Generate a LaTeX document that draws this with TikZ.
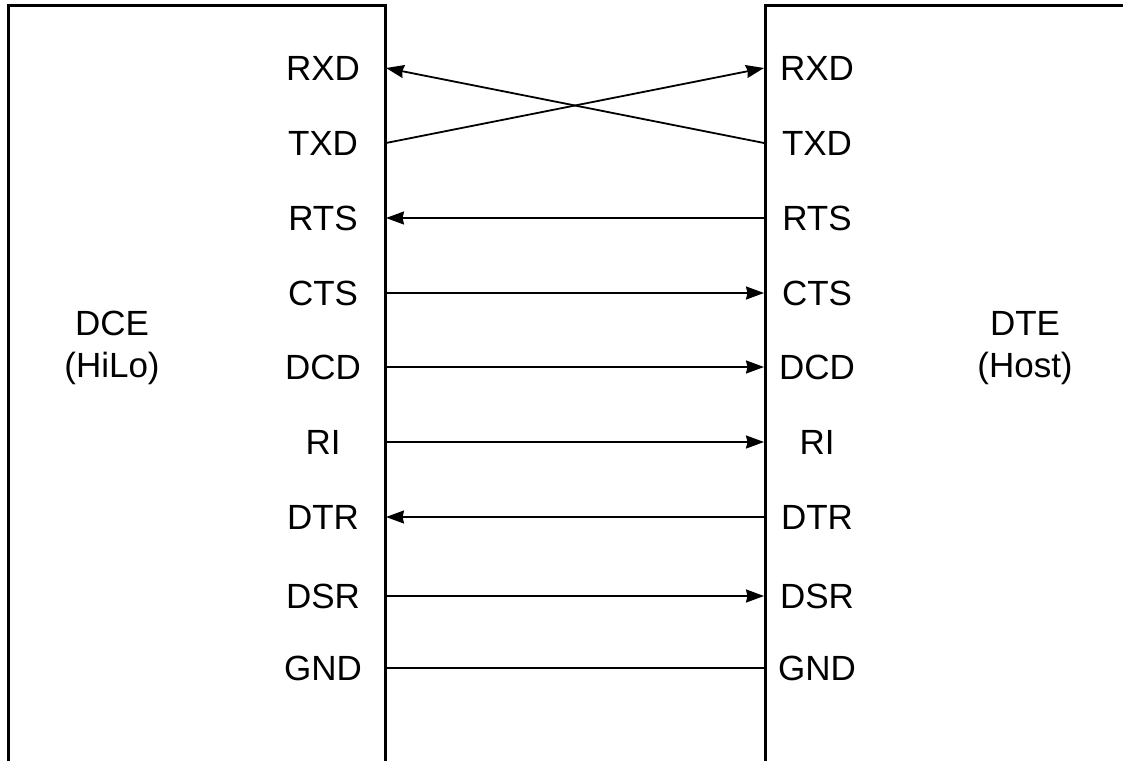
\documentclass[tikz,border=0pt]{standalone}
\usepackage{fontspec}
\setmainfont{Liberation Sans}
\usetikzlibrary{arrows.meta,positioning}

\begin{document}
\begin{tikzpicture}[x=1pt,y=-1pt,
    box/.style={draw,line width=3pt},
    pin/.style={font=\fontsize{35pt}{42pt}\selectfont,inner sep=0pt},
    wire/.style={line width=1.8pt},
    sig/.style={wire,-{Stealth[length=18pt,width=13pt,inset=1.5pt]}}]
  \useasboundingbox (0,0) rectangle (1123,760);
  \clip (0,0) rectangle (1123,760);

  % the two ends
  \draw[box] (8,6) rectangle (385,820);
  \draw[box] (765,6) rectangle (1180,820);
  \node[pin,align=center] (dce) at (112,348) {DCE\\(HiLo)};
  \node[pin,align=center] (dte) at (1025,348) {DTE\\(Host)};

  % pin labels and pin points
  \foreach \name/\y in {RXD/68,TXD/143,RTS/218,CTS/293,DCD/367,RI/442,DTR/517,DSR/596,GND/668}{
    \node[pin] (l\name) at (323,\y) {\name};
    \node[pin] (r\name) at (817,\y) {\name};
    \coordinate (a\name) at (386,\y);
    \coordinate (b\name) at (764,\y);
  }

  \draw[sig] (bTXD) -- (aRXD);
  \draw[sig] (aTXD) -- (bRXD);
  \draw[sig] (bRTS) -- (aRTS);
  \draw[sig] (aCTS) -- (bCTS);
  \draw[sig] (aDCD) -- (bDCD);
  \draw[sig] (aRI) -- (bRI);
  \draw[sig] (bDTR) -- (aDTR);
  \draw[sig] (aDSR) -- (bDSR);
  \draw[wire] (aGND) -- (bGND);

\end{tikzpicture}
\end{document}
